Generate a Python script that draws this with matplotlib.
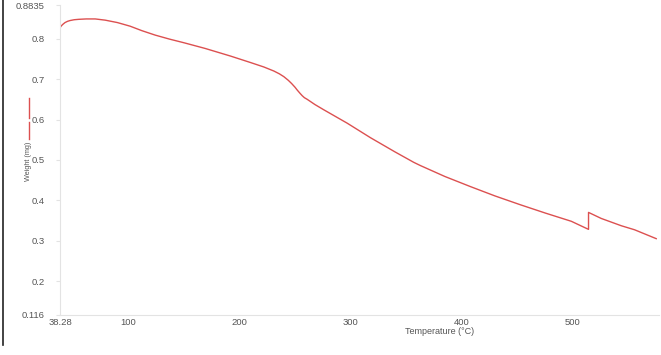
import matplotlib.pyplot as plt
from matplotlib.lines import Line2D

plt.rcParams["font.family"] = ["Liberation Sans", "DejaVu Sans"]

# TGA curve
temperature = [38.5, 39.5, 41, 42.8, 45, 47.3, 51, 55, 62, 70, 79, 90, 101.5, 112, 124, 137, 150, 169,
               192, 210, 222, 231, 236, 240, 244, 247, 250, 252, 254.5, 256.5, 258.5, 261, 268, 276,
               297, 318, 340, 357, 363, 385, 408, 430, 453, 476, 499, 514.5, 514.5, 526, 544, 556, 575.5]
weight = [0.828, 0.832, 0.836, 0.840, 0.843, 0.845, 0.847, 0.848, 0.849, 0.849, 0.846, 0.840, 0.831,
          0.820, 0.809, 0.799, 0.790, 0.776, 0.757, 0.741, 0.730, 0.720, 0.713, 0.706, 0.697, 0.689,
          0.680, 0.673, 0.665, 0.659, 0.654, 0.650, 0.637, 0.624, 0.591, 0.555, 0.520, 0.494, 0.486,
          0.459, 0.434, 0.411, 0.389, 0.368, 0.348, 0.328, 0.370, 0.355, 0.337, 0.327, 0.305]

x_ticks = [38.28, 100, 200, 300, 400, 500]
x_tick_labels = ["38.28", "100", "200", "300", "400", "500"]
y_ticks = [0.116, 0.2, 0.3, 0.4, 0.5, 0.6, 0.7, 0.8, 0.8835]
y_tick_labels = ["0.116", "0.2", "0.3", "0.4", "0.5", "0.6", "0.7", "0.8", "0.8835"]

line_color = "#dc5050"
text_color = "#555555"

fig = plt.figure(figsize=(6.61, 3.55), dpi=100)
ax = fig.add_axes([60 / 661, 1 - 315 / 355, 599 / 661, 310 / 355])

ax.plot(temperature, weight, color=line_color, linewidth=1.0)

ax.set_xlim(38.28, 578)
ax.set_ylim(0.116, 0.8835)
ax.set_xticks(x_ticks)
ax.set_xticklabels(x_tick_labels)
ax.set_yticks(y_ticks)
ax.set_yticklabels(y_tick_labels)

for side in ["top", "right"]:
    ax.spines[side].set_visible(False)
for side in ["left", "bottom"]:
    ax.spines[side].set_color("#e3e3e3")
    ax.spines[side].set_linewidth(0.8)

ax.tick_params(axis="y", length=3, color="#e3e3e3", labelsize=6.8, labelcolor=text_color, pad=8)
ax.tick_params(axis="x", length=0, labelsize=6.8, labelcolor=text_color, pad=2)

# axis titles
fig.text(440 / 661, 1 - 332 / 355, "Temperature (°C)", fontsize=6.5, color=text_color,
         ha="center", va="center")
fig.text(29 / 661, 1 - 161 / 355, "Weight (mg)", fontsize=5.2, color=text_color,
         ha="center", va="center", rotation=90)

# little legend mark next to the y title
fig.add_artist(Line2D([29 / 661, 29 / 661], [1 - 98 / 355, 1 - 118 / 355],
                      color=line_color, linewidth=1.0))
fig.add_artist(Line2D([29 / 661, 29 / 661], [1 - 122 / 355, 1 - 139 / 355],
                      color=line_color, linewidth=1.0))

# dark frame line on the left edge
fig.add_artist(Line2D([3 / 661, 3 / 661], [1.0, 1 - 345 / 355], color="#222222", linewidth=1.2))

fig.savefig("out.png", dpi=100)
